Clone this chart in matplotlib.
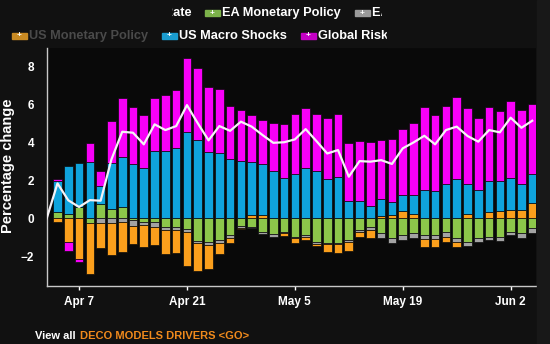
import pandas as pd
import matplotlib
matplotlib.use('Agg')
import matplotlib.pyplot as plt
from matplotlib.patches import Rectangle

plt.rcParams['font.family'] = ['Liberation Sans', 'DejaVu Sans']
plt.rcParams['font.weight'] = 'bold'

# Business days, Apr 2 is the base date (line starts at 0, no bar)
dates = pd.bdate_range('2025-04-02', '2025-06-04')

eurusd_change = [0, 1.84, 0.95, 0.6, 0.96, 0.93, 3.1, 4.55, 4.5, 3.89, 4.94,
                 4.64, 4.85, 5.95, 5.0, 4.1, 4.85, 4.6, 5.08, 4.82, 4.38,
                 3.97, 4.0, 4.15, 4.69, 4.06, 3.41, 3.59, 2.19, 3.01, 2.98,
                 3.06, 2.86, 3.68, 3.99, 4.34, 3.89, 4.64, 4.82, 4.33, 4.03,
                 4.64, 4.52, 5.29, 4.76, 5.13]

ea_monetary = [0.35, 0.25, 0.6, -0.23, 0.78, 0.48, 0.61, -0.08, -0.2, -0.18,
               -0.44, -0.44, -0.56, -1.19, -1.23, -1.14, -0.88, -0.39, -0.44, -0.7,
               -0.84, -0.7, -0.96, -0.88, -1.23, -1.31, -1.31, -1.14, -0.61, -0.44,
               -0.79, -1.05, -0.88, -0.79, -0.88, -0.88, -0.7, -1.02, -1.23, -1.05,
               -0.96, -0.96, -0.7, -0.79, -0.53]
ea_macro = [0, 0, 0, 0, -0.22, -0.26, -0.18, -0.3, -0.12, -0.25,
            -0.17, -0.15, -0.14, -0.12, -0.17, -0.17, -0.14, -0.1, -0.09, -0.12,
            -0.12, -0.09, -0.05, -0.09, -0.09, -0.05, -0.05, -0.09, -0.09, -0.18,
            -0.23, -0.26, -0.26, -0.23, -0.18, -0.21, -0.26, -0.21, -0.21, -0.21,
            -0.17, -0.21, -0.18, -0.23, -0.26]
us_monetary = [-0.18, -1.26, -2.14, -2.69, -1.36, -1.65, -1.57, -0.97, -1.17, -0.97,
               -1.26, -1.25, -1.79, -1.46, -1.28, -0.58, -0.26, -0.09, 0.18, 0.18,
               0, -0.14, -0.27, -0.17, -0.13, -0.43, -0.44, -0.49, -0.26, -0.4,
               0.12, 0.18, 0.39, 0.21, -0.43, -0.4, -0.3, -0.26, 0.21, 0,
               0.32, 0.39, 0.44, 0.44, 0.82]
us_macro = [1.61, 2.5, 2.32, 2.98, 0.92, 2.44, 2.59, 2.84, 2.63, 3.56,
            3.54, 3.71, 4.55, 4.12, 3.5, 3.42, 3.12, 3.01, 2.8, 2.66,
            2.5, 2.1, 2.33, 2.63, 2.5, 2.07, 2.19, 0.91, 0.91, 0.67,
            0.88, 0.66, 0.84, 1.02, 1.49, 1.44, 1.8, 2.07, 1.58, 1.49,
            1.64, 1.57, 1.66, 1.35, 1.51]
global_risk = [0.09, -0.47, -0.14, 0.96, 0.8, 2.2, 3.1, 3.03, 2.8, 2.78,
               2.94, 3.03, 3.89, 3.8, 3.42, 3.37, 2.8, 2.68, 2.45, 2.33,
               2.49, 2.86, 3.13, 3.18, 2.98, 3.18, 3.27, 3.03, 3.15, 3.32,
               3.12, 3.33, 3.46, 3.76, 4.38, 3.99, 4.12, 4.29, 3.99, 3.8,
               3.87, 3.7, 4.08, 3.9, 3.66]

tick_dates = ['2025-04-07', '2025-04-21', '2025-05-05', '2025-05-19', '2025-06-02']

# stacking order from zero outwards
series = [
    (ea_monetary, '#8cc64a'),
    (ea_macro, '#a3a3a3'),
    (us_monetary, '#fb9f1c'),
    (us_macro, '#0fa3dc'),
    (global_risk, '#f800f8'),
]

W, H = 550, 344
fig = plt.figure(figsize=(W / 100, H / 100), dpi=100, facecolor='#111111')
ax = fig.add_axes([46.7 / W, 1 - 286 / H, (536 - 46.7) / W, (286 - 48) / H])
ax.set_facecolor('#090909')

x = list(range(1, len(dates)))
pos = [0.0] * len(x)
neg = [0.0] * len(x)
for values, color in series:
    bottoms = []
    for i, v in enumerate(values):
        if v >= 0:
            bottoms.append(pos[i])
            pos[i] += v
        else:
            bottoms.append(neg[i])
            neg[i] += v
    ax.bar(x, values, bottom=bottoms, width=0.8, color=color,
           edgecolor='#0a0a0a', linewidth=0.5, zorder=2)

ax.plot(range(len(dates)), eurusd_change, color='#f6f2f6', lw=1.6, zorder=3)

ax.set_xlim(0, 45.35)
ax.set_ylim(-3.55, 8.95)
ax.set_yticks([-2, 0, 2, 4, 6, 8])
ticks = [list(dates).index(pd.Timestamp(d)) for d in tick_dates]
ax.set_xticks(ticks)
ax.set_xticklabels([pd.Timestamp(d).strftime('%b ') + str(pd.Timestamp(d).day) for d in tick_dates])
ax.tick_params(axis='x', colors='white', labelsize=8.5, length=3, width=1, pad=4)
ax.tick_params(axis='y', colors='white', labelsize=8.5, length=0, pad=9)
for s in ['top', 'right']:
    ax.spines[s].set_visible(False)
for s in ['left', 'bottom']:
    ax.spines[s].set_color('#c8c8c8')
    ax.spines[s].set_linewidth(1)


def fx(px):
    return px / W


def fy(py):
    return 1 - py / H


fig.text(fx(8.5), fy(166), 'Percentage change', color='white', fontsize=10.5,
         fontweight='bold', rotation=90, ha='center', va='center')


def legend_item(x0, yc, color, label, text_color='white'):
    fig.add_artist(Rectangle((fx(x0), fy(yc + 3)), fx(15), 6 / H, color=color,
                             transform=fig.transFigure, zorder=3))
    fig.text(fx(x0 + 7.5), fy(yc), '+', color='white', fontsize=6,
             ha='center', va='center', zorder=4)
    fig.text(fx(x0 + 17), fy(yc), label, color=text_color, fontsize=9.2,
             fontweight='bold', ha='left', va='center', zorder=4)


# legend rows (screenshot is cropped, parts are hidden)
fig.text(fx(192), fy(13), 'Spot Rate', color='white', fontsize=9.2,
         fontweight='bold', ha='right', va='center', zorder=4)
legend_item(205, 13, '#7cb24a', 'EA Monetary Policy')
legend_item(355, 13, '#9a9a9a', 'EA Macro Shocks')
legend_item(12, 36, '#c98a22', 'US Monetary Policy', text_color='#4a4a4a')
legend_item(162, 36, '#1a9ccf', 'US Macro Shocks')
legend_item(301, 36, '#c400c4', 'Global Risk')

# masks of the cropped screenshot
for (x0, y0, x1, y1) in [(0, 0, 171, 24), (382, 0, 537, 24), (387, 24, 537, 47)]:
    fig.add_artist(Rectangle((fx(x0), fy(y1)), fx(x1 - x0), (y1 - y0) / H,
                             color='#111111', transform=fig.transFigure, zorder=10))
fig.add_artist(Rectangle((fx(537), 0), fx(W - 537), 1, color='#181818',
                         transform=fig.transFigure, zorder=10))

# footer
fig.text(fx(35), fy(331), 'View all', color='white', fontsize=8,
         fontweight='bold', ha='left', va='top')
fig.text(fx(80), fy(331), 'DECO MODELS DRIVERS <GO>', color='#f08a1c', fontsize=8,
         fontweight='bold', ha='left', va='top')

fig.savefig('out.png', dpi=100, facecolor=fig.get_facecolor())
